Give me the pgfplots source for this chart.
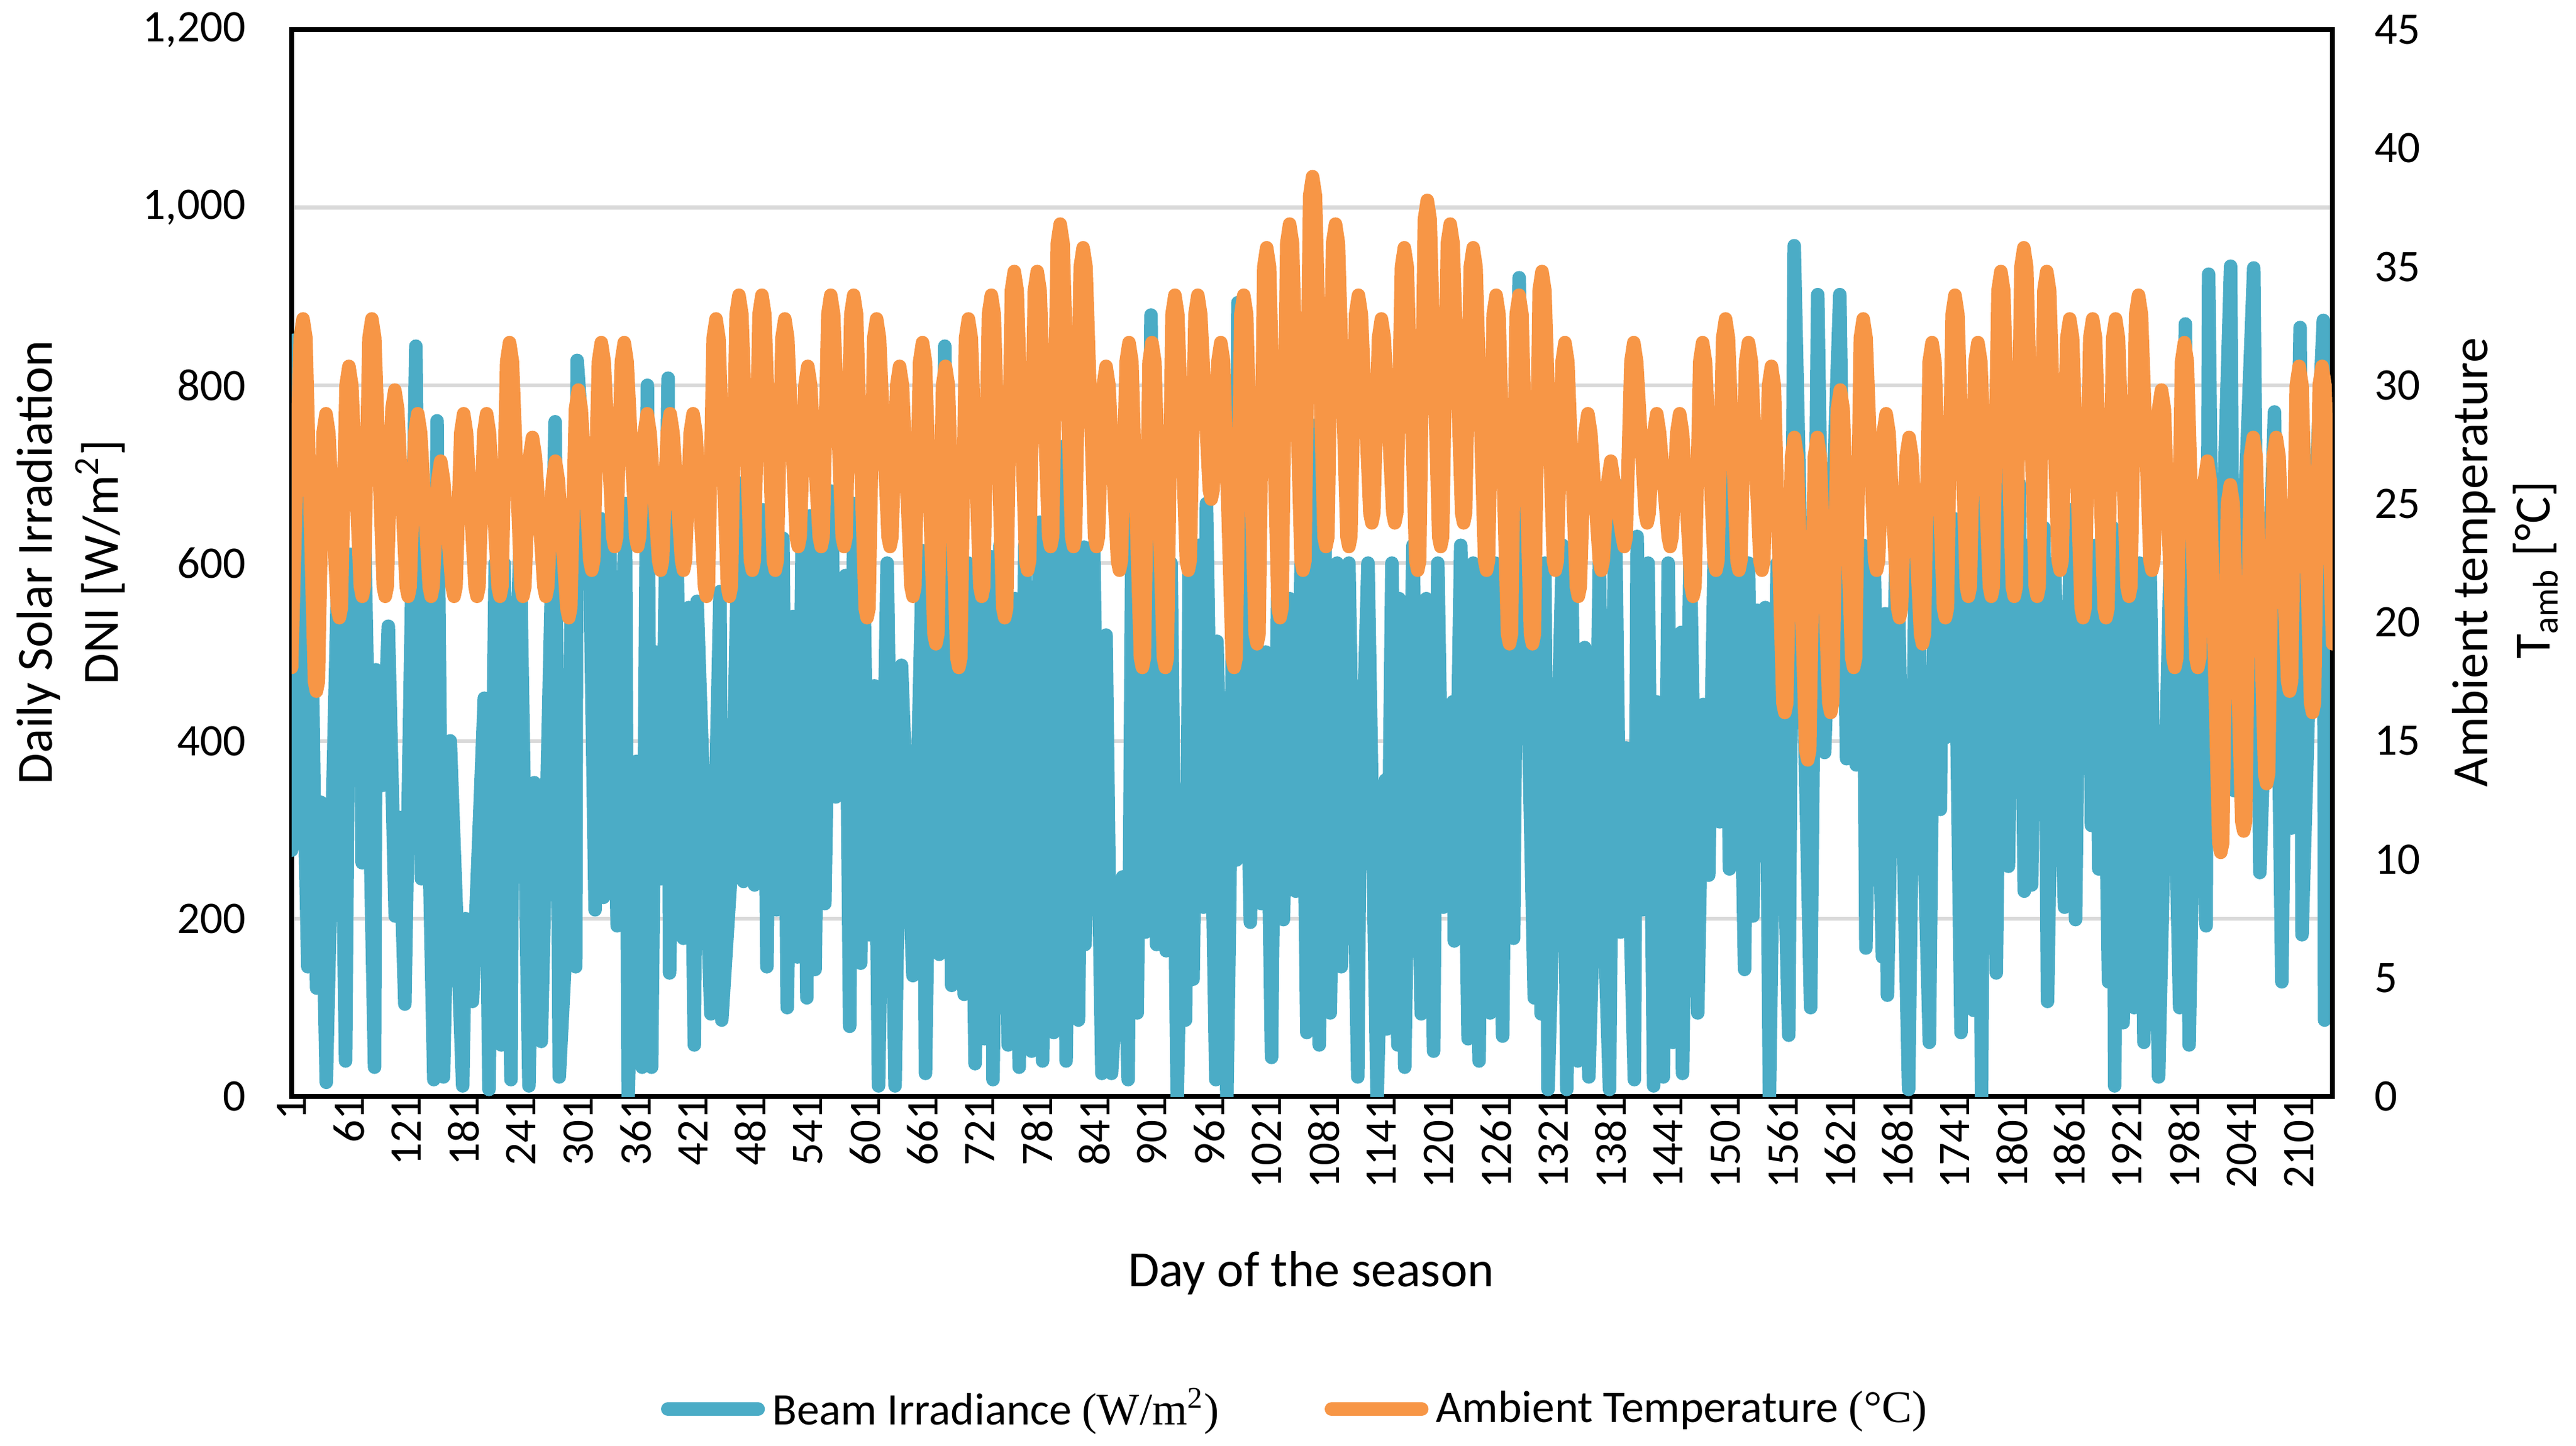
\documentclass[border=0pt]{standalone}
\usepackage{fontspec}
\setmainfont{Carlito}
\newfontfamily\serifpart{Liberation Serif}
\usepackage{pgfplots}
\pgfplotsset{compat=1.18}
\definecolor{beam}{RGB}{75,172,198}
\definecolor{amb}{RGB}{247,150,70}
\definecolor{gridc}{RGB}{217,217,217}
\begin{document}
\begin{tikzpicture}
\path[use as bounding box] (-77.5pt,-92.8pt) rectangle (607.2pt,291.5pt);
\begin{axis}[
  at={(0,0)}, anchor=south west,
  scale only axis, width=542.5pt, height=283.6pt,
  xmin=1, xmax=2136, ymin=0, ymax=1200,
  xtick={1,61,...,2101},
  ytick={0,200,...,1200},
  ymajorgrids, grid style={gridc, line width=1pt},
  major tick length=0pt,
  axis line style={black, line width=1.3pt},
  ytick pos=left, xtick pos=bottom,
  /pgf/number format/assume math mode=true,
  tick label style={font=\fontsize{12}{14}\selectfont},
  xticklabel style={rotate=90, anchor=east, inner sep=0pt, /pgf/number format/1000 sep={}},
  yticklabel style={anchor=east, inner sep=0pt, xshift=-12pt, /pgf/number format/1000 sep={,}},
]
\addplot[beam, line width=3.6pt, line join=round, line cap=round] coordinates {
(1,277) (4.5,851) (18,146) (21.4,589) (27.2,122) (31.5,331) (37.3,16) (50,620) (57.5,40) (61.8,610) (68.2,436) (72,650) (74.8,263) (76.2,700) (87.8,33) (89.2,480) (96,350) (102.2,529) (109.4,203) (113.7,314) (119.5,104) (131,844) (136.8,245) (139.7,560) (149.8,19) (153.2,760) (159.9,22) (167,400) (180,12) (183,200) (190.2,107) (202.6,448) (207.5,8) (214,600) (220.4,58) (223.3,600) (230.5,19) (232,367) (240,620) (249.3,12) (255,353) (262.2,62) (276.7,759) (281,22) (289.7,206) (294,600) (298.2,146) (299.7,828) (312.7,628) (318.5,210) (324.3,650) (327.2,224) (334,620) (341.6,192) (350.2,667) (353.1,0) (361.8,377) (367.7,33) (373.2,800) (377.6,33) (382,500) (387.7,245) (394.9,808) (396.4,139) (404,620) (410.8,178) (416.5,550) (422.3,58) (425.2,557) (439.6,93)
(449.2,568) (451,86) (460.7,252) (469.4,690) (473.7,242) (479,620) (485.3,238) (493.9,660) (498.2,146) (503,600) (508.3,210) (515,628) (519.5,100) (525.6,540) (530,157) (535,620) (540,111) (543,653) (548.7,143) (554,620) (558.8,217) (566,681) (570.3,337) (580.4,586) (584.8,79) (589.1,667) (596.3,150) (600,550) (605,182) (610.7,462) (615,12) (624,600) (632.3,12) (639,485) (651,136) (661.2,614) (664.1,26) (672,620) (678.5,160) (684.3,844) (691.5,125) (698,600) (704.5,115) (708.8,600) (716,37) (723.2,560) (726.1,65) (733.3,607) (734.7,19) (742,620) (750.6,58) (757.8,560) (762.1,33) (768,620) (775.1,51) (783.8,646) (786.6,40) (792,620) (798.2,72) (806.8,731) (811.2,40) (818,620) (824.1,86) (829.9,618) (831,171) (840,620) (848.6,26) (853,519) (858.7,26) (870.3,247) (876.1,19) (880.4,700)
(885.6,94) (890,620) (894.3,185) (900,879) (905.8,171) (911,620) (915.9,164) (921,600) (927.4,0) (933.2,328) (936.1,86) (940,600) (944,132) (950,620) (954.8,213) (958,667) (967.8,19) (969,512) (979.4,0) (982.3,215) (985,500) (989.4,266) (990.9,893) (1003.9,196) (1010,560) (1015.4,217) (1020,500) (1026.1,44) (1027,155) (1033,600) (1038.5,199) (1045,560) (1051.4,231) (1057,600) (1063,72) (1070.2,755) (1076,58) (1082,620) (1087.5,94) (1094.7,600) (1099,146) (1107,600) (1116.3,22) (1118,254) (1127,600) (1136.5,0) (1145.2,356) (1146.6,76) (1152,600) (1158.2,58) (1159.6,560) (1165.4,33) (1174,620) (1182.7,93) (1188,560) (1195.6,51) (1200,600) (1205.8,213) (1208.6,349) (1215.8,444) (1217.3,175) (1224,620) (1231.7,65) (1237,600) (1243.2,40) (1248,600) (1254.8,94) (1260,600) (1267.8,68) (1273,620) (1279.3,178) (1285.1,921) (1300.9,111) (1304,500) (1308.1,93) (1312,600) (1315.3,8)
(1323.4,312) (1330.6,620) (1334.9,8) (1340,600) (1346.5,40) (1353.7,505) (1358,22) (1363.8,245) (1369,600) (1375.3,157) (1379.6,8) (1385.4,690) (1391.2,185) (1396.9,392) (1405.6,19) (1408.5,630) (1414.2,210) (1420,600) (1425.8,12) (1428.6,444) (1435.9,22) (1441,600) (1445.9,61) (1454.6,522) (1456,26) (1464,620) (1471.9,94) (1477.7,441) (1483.4,249) (1489,600) (1495,309) (1500,700) (1505.1,256) (1513,620) (1520.9,143) (1525,600) (1529.6,203) (1533.9,547) (1538,300) (1542.6,550) (1546.9,0) (1555,600) (1567.1,69) (1572.8,957) (1590,100) (1597.4,902) (1604.6,387) (1620.5,902) (1627.6,380) (1632,600) (1637.7,373) (1645,620) (1647.8,167) (1656,620) (1665.1,157) (1668,543) (1670.3,114) (1680,650) (1692.5,8) (1700,650) (1714.2,61) (1720,650) (1725.7,323) (1728,650) (1731.5,404) (1740,650) (1747.3,72) (1754,620) (1760.3,97)
(1765,640) (1768.8,0) (1772,680) (1774,355) (1780,620) (1784.2,139) (1790,700) (1796.9,259) (1802,640) (1804.6,369) (1808,690) (1813.5,231) (1817,620) (1821.2,238) (1826,700) (1828.8,394) (1834,640) (1837.8,107) (1845,600) (1855.6,213) (1862,660) (1867.1,199) (1872,640) (1877.4,369) (1882,600) (1883.7,305) (1888,620) (1891.4,256) (1895,600) (1901.6,129) (1906,640) (1908,12) (1913,600) (1916.9,83) (1922,620) (1928.4,100) (1934,600) (1938.6,61) (1945,600) (1954,22) (1966,600) (1976,100) (1982,869) (1985.9,58) (1995,600) (2003.7,192) (2006.3,925) (2012.7,319) (2029.3,934) (2033.1,344) (2053.5,932) (2059.9,252) (2075.2,770) (2082.9,129) (2088,600) (2093.1,302) (2102,865) (2104,182) (2115,600) (2126.3,873) (2127.6,86) (2136,203)
};
\end{axis}
\begin{axis}[
  at={(0,0)}, anchor=south west,
  scale only axis, width=542.5pt, height=283.6pt,
  xmin=1, xmax=2136, ymin=0, ymax=45,
  axis x line=none, axis y line*=right,
  ytick={0,5,...,45},
  major tick length=0pt,
  axis line style={-, black, line width=1.3pt},
  /pgf/number format/assume math mode=true,
  tick label style={font=\fontsize{12}{14}\selectfont},
  yticklabel style={anchor=west, inner sep=0pt, xshift=11pt},
  legend columns=2,
  legend style={at={(axis description cs:0.493,-0.293)}, anchor=center, draw=none, fill=none,
    font=\fontsize{12}{14}\selectfont, /tikz/every even column/.append style={column sep=26pt}},
  legend cell align=left,
  legend image code/.code={\draw[#1, line width=3.6pt, line cap=round] (0pt,0pt) -- (24pt,0pt);},
]
\addlegendimage{beam}
\addlegendentry{Beam Irradiance {\serifpart(W/m\textsuperscript{2})}}
\addplot[amb, line width=3.6pt, line join=round, line cap=round] coordinates {
(1,18.1)
(10,32.0)(13,32.8)(16,32.0)(25,17.5)(27,17.1)(29,17.5)
(34,28.0)(37,28.8)(40,28.0)(49,20.6)(51,20.2)(53,20.6)
(58,30.0)(61,30.8)(64,30.0)(73,21.5)(75,21.1)(77,21.5)
(82,32.0)(85,32.8)(88,32.0)(97,21.5)(99,21.1)(101,21.5)
(106,29.0)(109,29.8)(112,29.0)(121,21.5)(123,21.1)(125,21.5)
(130,28.0)(133,28.8)(136,28.0)(145,21.5)(147,21.1)(149,21.5)
(154,26.0)(157,26.8)(160,26.0)(169,21.5)(171,21.1)(173,21.5)
(178,28.0)(181,28.8)(184,28.0)(193,21.5)(195,21.1)(197,21.5)
(202,28.0)(205,28.8)(208,28.0)(217,21.5)(219,21.1)(221,21.5)
(226,31.0)(229,31.8)(232,31.0)(241,21.5)(243,21.1)(245,21.5)
(250,27.0)(253,27.8)(256,27.0)(265,21.5)(267,21.1)(269,21.5)
(274,26.0)(277,26.8)(280,26.0)(289,20.6)(291,20.2)(293,20.6)
(298,29.0)(301,29.8)(304,29.0)(313,22.6)(315,22.2)(317,22.6)
(322,31.0)(325,31.8)(328,31.0)(337,23.6)(339,23.2)(341,23.6)
(346,31.0)(349,31.8)(352,31.0)(361,23.6)(363,23.2)(365,23.6)
(370,28.0)(373,28.8)(376,28.0)(385,22.6)(387,22.2)(389,22.6)
(394,28.0)(397,28.8)(400,28.0)(409,22.6)(411,22.2)(413,22.6)
(418,28.0)(421,28.8)(424,28.0)(433,21.5)(435,21.1)(437,21.5)
(442,32.0)(445,32.8)(448,32.0)(457,21.5)(459,21.1)(461,21.5)
(466,33.0)(469,33.8)(472,33.0)(481,22.6)(483,22.2)(485,22.6)
(490,33.0)(493,33.8)(496,33.0)(505,22.6)(507,22.2)(509,22.6)
(514,32.0)(517,32.8)(520,32.0)(529,23.6)(531,23.2)(533,23.6)
(538,30.0)(541,30.8)(544,30.0)(553,23.6)(555,23.2)(557,23.6)
(562,33.0)(565,33.8)(568,33.0)(577,23.6)(579,23.2)(581,23.6)
(586,33.0)(589,33.8)(592,33.0)(601,20.6)(603,20.2)(605,20.6)
(610,32.0)(613,32.8)(616,32.0)(625,23.6)(627,23.2)(629,23.6)
(634,30.0)(637,30.8)(640,30.0)(649,21.5)(651,21.1)(653,21.5)
(658,31.0)(661,31.8)(664,31.0)(673,19.5)(675,19.1)(677,19.5)
(682,30.0)(685,30.8)(688,30.0)(697,18.5)(699,18.1)(701,18.5)
(706,32.0)(709,32.8)(712,32.0)(721,21.5)(723,21.1)(725,21.5)
(730,33.0)(733,33.8)(736,33.0)(745,20.6)(747,20.2)(749,20.6)
(754,34.0)(757,34.8)(760,34.0)(769,22.6)(771,22.2)(773,22.6)
(778,34.0)(781,34.8)(784,34.0)(793,23.6)(795,23.2)(797,23.6)
(802,36.0)(805,36.8)(808,36.0)(817,23.6)(819,23.2)(821,23.6)
(826,35.0)(829,35.8)(832,35.0)(841,23.6)(843,23.2)(845,23.6)
(850,30.0)(853,30.8)(856,30.0)(865,22.6)(867,22.2)(869,22.6)
(874,31.0)(877,31.8)(880,31.0)(889,18.5)(891,18.1)(893,18.5)
(898,31.0)(901,31.8)(904,31.0)(913,18.5)(915,18.1)(917,18.5)
(922,33.0)(925,33.8)(928,33.0)(937,22.6)(939,22.2)(941,22.6)
(946,33.0)(949,33.8)(952,33.0)(961,25.6)(963,25.2)(965,25.6)
(970,31.0)(973,31.8)(976,31.0)(985,18.5)(987,18.1)(989,18.5)
(994,33.0)(997,33.8)(1000,33.0)(1009,19.5)(1011,19.1)(1013,19.5)
(1018,35.0)(1021,35.8)(1024,35.0)(1033,20.6)(1035,20.2)(1037,20.6)
(1042,36.0)(1045,36.8)(1048,36.0)(1057,22.6)(1059,22.2)(1061,22.6)
(1066,38.0)(1069,38.8)(1072,38.0)(1081,23.6)(1083,23.2)(1085,23.6)
(1090,36.0)(1093,36.8)(1096,36.0)(1105,23.6)(1107,23.2)(1109,23.6)
(1114,33.0)(1117,33.8)(1120,33.0)(1129,24.6)(1131,24.2)(1133,24.6)
(1138,32.0)(1141,32.8)(1144,32.0)(1153,24.6)(1155,24.2)(1157,24.6)
(1162,35.0)(1165,35.8)(1168,35.0)(1177,22.6)(1179,22.2)(1181,22.6)
(1186,37.0)(1189,37.8)(1192,37.0)(1201,23.6)(1203,23.2)(1205,23.6)
(1210,36.0)(1213,36.8)(1216,36.0)(1225,24.6)(1227,24.2)(1229,24.6)
(1234,35.0)(1237,35.8)(1240,35.0)(1249,22.6)(1251,22.2)(1253,22.6)
(1258,33.0)(1261,33.8)(1264,33.0)(1273,19.5)(1275,19.1)(1277,19.5)
(1282,33.0)(1285,33.8)(1288,33.0)(1297,19.5)(1299,19.1)(1301,19.5)
(1306,34.0)(1309,34.8)(1312,34.0)(1321,22.6)(1323,22.2)(1325,22.6)
(1330,31.0)(1333,31.8)(1336,31.0)(1345,21.5)(1347,21.1)(1349,21.5)
(1354,28.0)(1357,28.8)(1360,28.0)(1369,22.6)(1371,22.2)(1373,22.6)
(1378,26.0)(1381,26.8)(1384,26.0)(1393,23.6)(1395,23.2)(1397,23.6)
(1402,31.0)(1405,31.8)(1408,31.0)(1417,24.6)(1419,24.2)(1421,24.6)
(1426,28.0)(1429,28.8)(1432,28.0)(1441,23.6)(1443,23.2)(1445,23.6)
(1450,28.0)(1453,28.8)(1456,28.0)(1465,21.5)(1467,21.1)(1469,21.5)
(1474,31.0)(1477,31.8)(1480,31.0)(1489,22.6)(1491,22.2)(1493,22.6)
(1498,32.0)(1501,32.8)(1504,32.0)(1513,22.6)(1515,22.2)(1517,22.6)
(1522,31.0)(1525,31.8)(1528,31.0)(1537,22.6)(1539,22.2)(1541,22.6)
(1546,30.0)(1549,30.8)(1552,30.0)(1561,16.6)(1563,16.2)(1565,16.6)
(1570,27.0)(1573,27.8)(1576,27.0)(1585,14.6)(1587,14.2)(1589,14.6)
(1594,27.0)(1597,27.8)(1600,27.0)(1609,16.6)(1611,16.2)(1613,16.6)
(1618,29.0)(1621,29.8)(1624,29.0)(1633,18.5)(1635,18.1)(1637,18.5)
(1642,32.0)(1645,32.8)(1648,32.0)(1657,22.6)(1659,22.2)(1661,22.6)
(1666,28.0)(1669,28.8)(1672,28.0)(1681,20.6)(1683,20.2)(1685,20.6)
(1690,27.0)(1693,27.8)(1696,27.0)(1705,19.5)(1707,19.1)(1709,19.5)
(1714,31.0)(1717,31.8)(1720,31.0)(1729,20.6)(1731,20.2)(1733,20.6)
(1738,33.0)(1741,33.8)(1744,33.0)(1753,21.5)(1755,21.1)(1757,21.5)
(1762,31.0)(1765,31.8)(1768,31.0)(1777,21.5)(1779,21.1)(1781,21.5)
(1786,34.0)(1789,34.8)(1792,34.0)(1801,21.5)(1803,21.1)(1805,21.5)
(1810,35.0)(1813,35.8)(1816,35.0)(1825,21.5)(1827,21.1)(1829,21.5)
(1834,34.0)(1837,34.8)(1840,34.0)(1849,22.6)(1851,22.2)(1853,22.6)
(1858,32.0)(1861,32.8)(1864,32.0)(1873,20.6)(1875,20.2)(1877,20.6)
(1882,32.0)(1885,32.8)(1888,32.0)(1897,20.6)(1899,20.2)(1901,20.6)
(1906,32.0)(1909,32.8)(1912,32.0)(1921,21.5)(1923,21.1)(1925,21.5)
(1930,33.0)(1933,33.8)(1936,33.0)(1945,22.6)(1947,22.2)(1949,22.6)
(1954,29.0)(1957,29.8)(1960,29.0)(1969,18.5)(1971,18.1)(1973,18.5)
(1978,31.0)(1981,31.8)(1984,31.0)(1993,18.5)(1995,18.1)(1997,18.5)
(2002,26.0)(2005,26.8)(2008,26.0)(2017,10.7)(2019,10.3)(2021,10.7)
(2026,25.0)(2029,25.8)(2032,25.0)(2041,11.6)(2043,11.2)(2045,11.6)
(2050,27.0)(2053,27.8)(2056,27.0)(2065,13.6)(2067,13.2)(2069,13.6)
(2074,27.0)(2077,27.8)(2080,27.0)(2089,17.5)(2091,17.1)(2093,17.5)
(2098,30.0)(2101,30.8)(2104,30.0)(2113,16.6)(2115,16.2)(2117,16.6)
(2122,30.0)(2125,30.8)(2128,30.0)(2136,19.1)
};
\addlegendentry{Ambient Temperature {\serifpart(°C)}}
\end{axis}
\node[rotate=90, anchor=base, font=\fontsize{13.5}{16}\selectfont] at (-63.6pt,142pt) {Daily Solar Irradiation};
\node[rotate=90, anchor=base, font=\fontsize{13.5}{16}\selectfont] at (-46.1pt,142pt) {DNI [W/m\textsuperscript{2}]};
\node[rotate=90, anchor=base, font=\fontsize{13.5}{16}\selectfont] at (583.6pt,142pt) {Ambient temperature};
\node[rotate=90, anchor=base, font=\fontsize{13.5}{16}\selectfont] at (600.2pt,140pt) {T\textsubscript{amb} [°C]};
\node[anchor=base, font=\fontsize{13.5}{16}\selectfont] at (271pt,-50.5pt) {Day of the season};
\end{tikzpicture}
\end{document}
